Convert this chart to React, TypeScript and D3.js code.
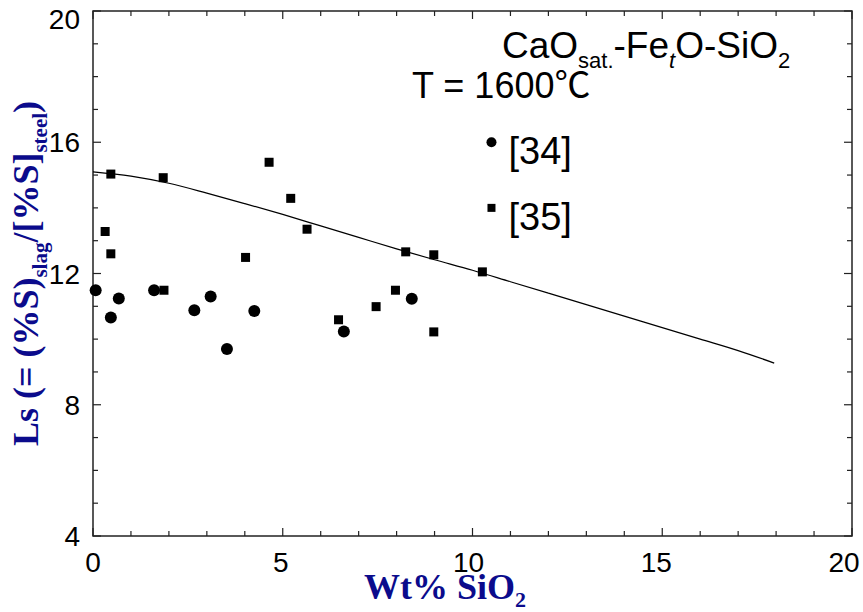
import React from "react";
import * as d3 from "d3";

// Data
const ref34X = [0.07, 0.47, 0.68, 1.61, 2.67, 3.1, 3.53, 4.25, 6.61, 8.4];
const ref34Y = [11.49, 10.66, 11.24, 11.49, 10.88, 11.3, 9.7, 10.86, 10.23, 11.23];

const ref35X = [0.47, 1.85, 4.64, 5.21, 5.64, 0.32, 0.47, 4.02, 1.87, 8.24, 8.98, 7.97, 7.46, 6.47, 8.98, 10.26];
const ref35Y = [15.03, 14.92, 15.39, 14.29, 13.35, 13.28, 12.6, 12.49, 11.49, 12.66, 12.57, 11.49, 10.99, 10.59, 10.22, 12.05];

const fitX = [0, 1, 2, 3, 4, 5, 6, 7, 8, 9, 10, 11, 12, 13, 14, 15, 16, 17, 17.95];
const fitY = [15.1, 14.97, 14.75, 14.45, 14.13, 13.8, 13.45, 13.1, 12.75, 12.42, 12.1, 11.75, 11.4, 11.05, 10.7, 10.35, 10.0, 9.65, 9.27];

const xMajorTicks = [0, 5, 10, 15, 20];
const yMajorTicks = [4, 8, 12, 16, 20];
const legendX = 10.5;
const legendY34 = 16;
const legendY35 = 14;

const W = 863;
const H = 612;
const LEFT = 93;
const RIGHT = 852;
const TOP = 11;
const BOTTOM = 536;

const NAVY = "#0b0b8c";
const SANS = "'Liberation Sans', Arial, 'DejaVu Sans', sans-serif";
const SERIF = "'Liberation Serif', 'Times New Roman', serif";

export default function App() {
  const x = d3.scaleLinear().domain([0, 20]).range([LEFT, RIGHT]);
  const y = d3.scaleLinear().domain([4, 20]).range([BOTTOM, TOP]);

  const xMinor = d3.range(0, 21, 1);
  const yMinor = d3.range(4, 21, 1);

  const line = d3
    .line<number>()
    .x((_, i) => x(fitX[i]))
    .y((d) => y(d))
    .curve(d3.curveMonotoneX);

  const sq = 9;
  const axisColor = "#222";

  return (
    <div style={{ position: "fixed", left: 0, top: 0 }}>
      <svg width={W} height={H} style={{ display: "block", background: "#fff" }}>
        {/* frame */}
        <rect x={LEFT} y={TOP} width={RIGHT - LEFT} height={BOTTOM - TOP} fill="none" stroke={axisColor} strokeWidth={1.5} />
        {/* x ticks (bottom & top, inward) */}
        {xMinor.map((v) => {
          const major = xMajorTicks.includes(v);
          const len = major ? 8 : 5;
          return (
            <g key={"xt" + v}>
              <line x1={x(v)} x2={x(v)} y1={BOTTOM} y2={BOTTOM - len} stroke={axisColor} strokeWidth={1.2} />
              <line x1={x(v)} x2={x(v)} y1={TOP} y2={TOP + len} stroke={axisColor} strokeWidth={1.2} />
            </g>
          );
        })}
        {yMinor.map((v) => {
          const major = yMajorTicks.includes(v);
          const len = major ? 8 : 5;
          return (
            <g key={"yt" + v}>
              <line x1={LEFT} x2={LEFT + len} y1={y(v)} y2={y(v)} stroke={axisColor} strokeWidth={1.2} />
              <line x1={RIGHT} x2={RIGHT - len} y1={y(v)} y2={y(v)} stroke={axisColor} strokeWidth={1.2} />
            </g>
          );
        })}
        {/* tick labels */}
        {xMajorTicks.map((v) => (
          <text key={"xl" + v} x={x(v) - v * 0.4} y={BOTTOM + 36} textAnchor="middle" fontFamily={SANS} fontSize={28} fill="#000">
            {v}
          </text>
        ))}
        {yMajorTicks.map((v) => (
          <text key={"yl" + v} x={LEFT - 13} y={Math.max(y(v) + 10, 29)} textAnchor="end" fontFamily={SANS} fontSize={28} fill="#000">
            {v}
          </text>
        ))}

        {/* fit line */}
        <path d={line(fitY) || ""} fill="none" stroke="#000" strokeWidth={1.2} />

        {/* data: [34] circles */}
        {ref34X.map((v, i) => (
          <circle key={"c" + i} cx={x(v)} cy={y(ref34Y[i])} r={6} fill="#000" />
        ))}
        {/* data: [35] squares */}
        {ref35X.map((v, i) => (
          <rect key={"s" + i} x={x(v) - sq / 2} y={y(ref35Y[i]) - sq / 2} width={sq} height={sq} fill="#000" />
        ))}

        {/* legend */}
        <circle cx={x(legendX)} cy={y(legendY34)} r={5} fill="#000" />
        <text x={x(legendX) + 17} y={y(legendY34) + 22} fontFamily={SANS} fontSize={38} fill="#000">[34]</text>
        <rect x={x(legendX) - 4} y={y(legendY35) - 4} width={8} height={8} fill="#000" />
        <text x={x(legendX) + 17} y={y(legendY35) + 22} fontFamily={SANS} fontSize={38} fill="#000">[35]</text>

        {/* annotations */}
        <text x={502} y={58} fontFamily={SANS} fontSize={37} fill="#000">
          CaO
          <tspan fontSize={22} dy={10}>sat.</tspan>
          <tspan dy={-10}>-Fe</tspan>
          <tspan fontSize={22} dy={10} fontStyle="italic">t</tspan>
          <tspan dy={-10}>O-SiO</tspan>
          <tspan fontSize={22} dy={10}>2</tspan>
        </text>
        <text x={412} y={98} fontFamily={"'Liberation Sans', Arial, 'Noto Sans CJK SC', sans-serif"} fontSize={36} fill="#000">
          T = 1600℃
        </text>

        {/* axis titles */}
        <text x={445} y={599} textAnchor="middle" fontFamily={SERIF} fontWeight="bold" fontSize={36} fill={NAVY}>
          Wt% SiO<tspan fontSize={22} dy={8}>2</tspan>
        </text>
        <text
          transform={`translate(38, ${(TOP + BOTTOM) / 2}) rotate(-90)`}
          textAnchor="middle"
          fontFamily={SERIF}
          fontWeight="bold"
          fontSize={36}
          fill={NAVY}
        >
          Ls (= (%S)<tspan fontSize={21} dy={9}>slag</tspan>
          <tspan dy={-9}>/[%S]</tspan>
          <tspan fontSize={21} dy={9}>steel</tspan>
          <tspan dy={-9}>)</tspan>
        </text>
      </svg>
    </div>
  );
}
